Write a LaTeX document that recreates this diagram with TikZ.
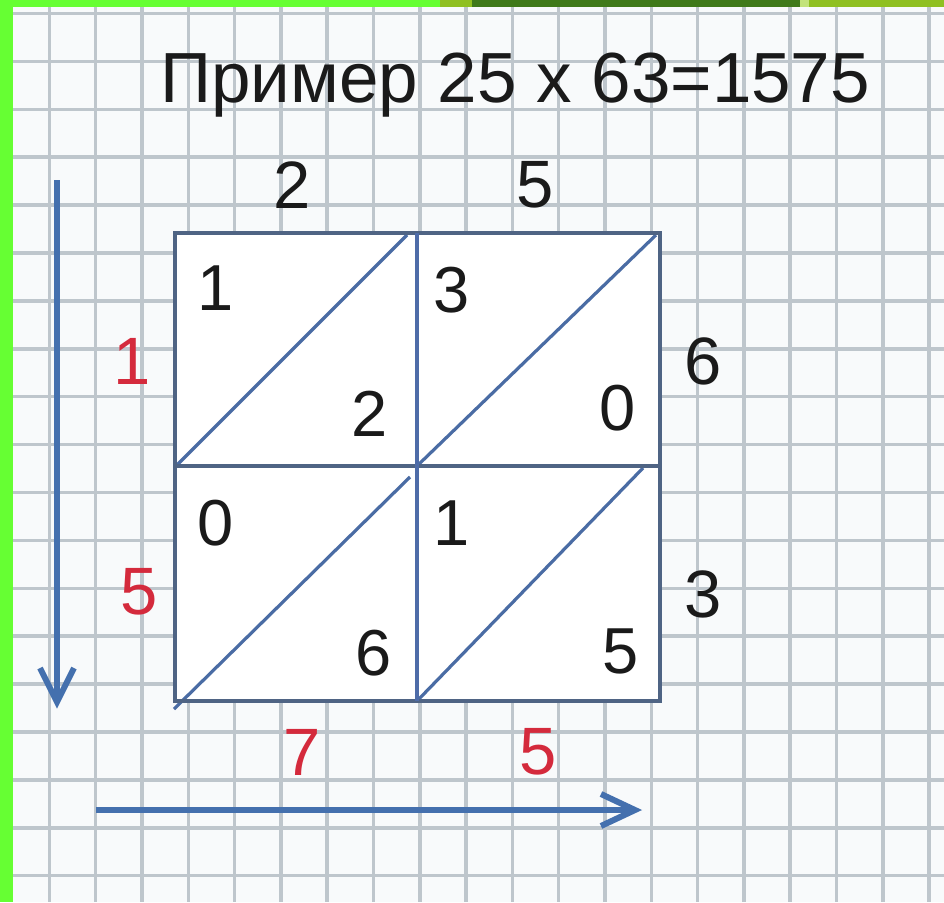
\documentclass[tikz,border=0pt]{standalone}
\usepackage{fontspec}
\setmainfont{Liberation Sans}
\definecolor{paper}{HTML}{F8FAFB}
\definecolor{gridc}{HTML}{BEC6CC}
\definecolor{brightgreen}{HTML}{66FF33}
\definecolor{yellowgreen}{HTML}{8FC021}
\definecolor{darkgreen}{HTML}{3F7A1A}
\definecolor{palegreen}{HTML}{C2E37A}
\definecolor{boxc}{HTML}{4F6484}
\definecolor{midc}{HTML}{4E6CA8}
\definecolor{diagc}{HTML}{4A6CA4}
\definecolor{arrowc}{HTML}{4470AE}
\definecolor{digitc}{HTML}{1A1A1A}
\definecolor{redc}{HTML}{D42A3C}
\tikzset{
  gridline/.style={draw=gridc, line width=3.5pt},
  boxline/.style={draw=boxc, line width=3.6pt},
  midline/.style={draw=midc, line width=3.4pt},
  diagline/.style={draw=diagc, line width=3.2pt},
  arrowline/.style={draw=arrowc, line width=6pt, line join=miter},
  celldigit/.style={text=digitc, inner sep=0pt, font=\fontsize{65}{65}\selectfont},
  outdigit/.style={text=digitc, inner sep=0pt, font=\fontsize{67}{67}\selectfont},
  reddigit/.style={text=redc, inner sep=0pt, font=\fontsize{67}{67}\selectfont},
  titletext/.style={text=digitc, inner sep=0pt, anchor=base, font=\fontsize{71}{71}\selectfont}
}
\begin{document}
\begin{tikzpicture}[x=1pt, y=-1pt]
\useasboundingbox (0,0) rectangle (944,902);
% paper
\fill[paper] (0,0) rectangle (944,902);
\foreach \k in {0,...,19} {
  \draw[gridline] ({49.4+46.3*\k},0) -- ({49.4+46.3*\k},902);
}
\foreach \k in {0,...,18} {
  \draw[gridline] (0,{13.5+47.9*\k}) -- (944,{13.5+47.9*\k});
}
% green frame
\fill[brightgreen] (0,0) rectangle (13,902);
\fill[brightgreen] (0,0) rectangle (440,7);
\fill[yellowgreen] (440,0) rectangle (472,7);
\fill[darkgreen] (472,0) rectangle (800,7);
\fill[palegreen] (800,0) rectangle (809,7);
\fill[yellowgreen] (809,0) rectangle (944,7);
% title
\node[titletext] (title) at (515,102) {Пример 25 x 63=1575};
% lattice corners
\coordinate (TL) at (175,233);
\coordinate (TR) at (660,233);
\coordinate (BL) at (175,701);
\coordinate (BR) at (660,701);
\coordinate (TM) at (417,233);
\coordinate (BM) at (417,701);
\coordinate (ML) at (175,466);
\coordinate (MR) at (660,466);
\coordinate (C) at (417,466);
\fill[white] (TL) rectangle (BR);
% diagonals
\coordinate (d1a) at (177,465);
\coordinate (d1b) at (407,235);
\coordinate (d2b) at (656,235);
\coordinate (d3a) at (174,709);
\coordinate (d3b) at (410,477);
\coordinate (d4b) at (643,468);
\draw[diagline] (d1a) -- (d1b);
\draw[diagline] (C) -- (d2b);
\draw[diagline] (d3a) -- (d3b);
\draw[diagline] (BM) -- (d4b);
% grid of lattice
\draw[boxline] (TL) rectangle (BR);
\draw[boxline] (ML) -- (MR);
\draw[midline] (TM) -- (BM);
% cell digits
\node[celldigit] (c11a) at (216,288) {1};
\node[celldigit] (c11b) at (370,414) {2};
\node[celldigit] (c12a) at (452,290) {3};
\node[celldigit] (c12b) at (618,408) {0};
\node[celldigit] (c21a) at (216,523) {0};
\node[celldigit] (c21b) at (374,653) {6};
\node[celldigit] (c22a) at (452,523) {1};
\node[celldigit] (c22b) at (621,651) {5};
% factors
\node[outdigit] (f2) at (292,185) {2};
\node[outdigit] (f5) at (535,185) {5};
\node[outdigit] (f6) at (703,361) {6};
\node[outdigit] (f3) at (703,594) {3};
% result digits
\node[reddigit] (r1) at (132,361) {1};
\node[reddigit] (r5) at (139,592) {5};
\node[reddigit] (r7) at (302,752) {7};
\node[reddigit] (r5b) at (538,752) {5};
% arrows
\coordinate (va) at (57,180);
\coordinate (vb) at (57,696);
\coordinate (vl) at (40,668);
\coordinate (vt) at (57,702);
\coordinate (vr) at (74,668);
\draw[arrowline] (va) -- (vb);
\draw[arrowline] (vl) -- (vt) -- (vr);
\coordinate (ha) at (96,810);
\coordinate (hb) at (628,810);
\coordinate (hu) at (601,794);
\coordinate (ht) at (635,810);
\coordinate (hd) at (601,826);
\draw[arrowline] (ha) -- (hb);
\draw[arrowline] (hu) -- (ht) -- (hd);
\end{tikzpicture}
\end{document}
